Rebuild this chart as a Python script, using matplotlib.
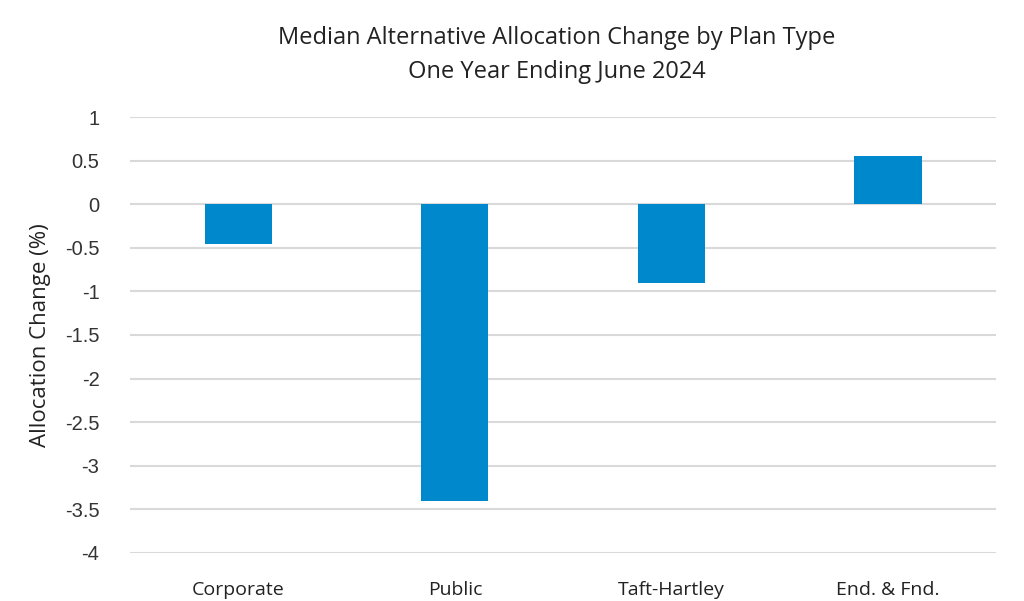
import numpy as np
import matplotlib.pyplot as plt

plt.rcParams['font.family'] = ['Liberation Sans', 'DejaVu Sans']

categories = ["Corporate", "Public", "Taft-Hartley", "End. & Fnd."]
values = [-0.46, -3.4, -0.9, 0.55]
yticks = [1, 0.5, 0, -0.5, -1, -1.5, -2, -2.5, -3, -3.5, -4]

fig = plt.figure(figsize=(10.24, 6.01), dpi=100)
ax = fig.add_axes([0.127, 0.0799, 0.846, 0.7254])

x = np.arange(len(categories))
ax.bar(x, values, width=0.31, color="#0088cc", zorder=3)

ax.set_xlim(-0.5, 3.5)
ax.set_ylim(-4, 1)
ax.set_yticks(yticks)
ax.set_yticklabels([f"{v:g}" for v in yticks], fontsize=14.5, color="#333333")
ax.set_xticks(x)
ax.set_xticklabels(categories, fontsize=14, color="#222222", family=['Open Sans', 'DejaVu Sans'])
ax.tick_params(axis='y', length=0, pad=22)
ax.tick_params(axis='x', length=0, pad=20)
ax.grid(axis='y', color="#d9d9d9", linewidth=1.5, zorder=0)
for s in ax.spines.values():
    s.set_visible(False)

ax.set_ylabel("Allocation Change (%)", fontsize=16, color="#222222", labelpad=10,
              family=['Open Sans', 'DejaVu Sans'])
ax.set_title("Median Alternative Allocation Change by Plan Type\nOne Year Ending June 2024",
             fontsize=17, color="#222222", pad=28, linespacing=1.55, x=0.493,
             family=['Open Sans', 'DejaVu Sans'])

fig.savefig("out.png", dpi=100)
